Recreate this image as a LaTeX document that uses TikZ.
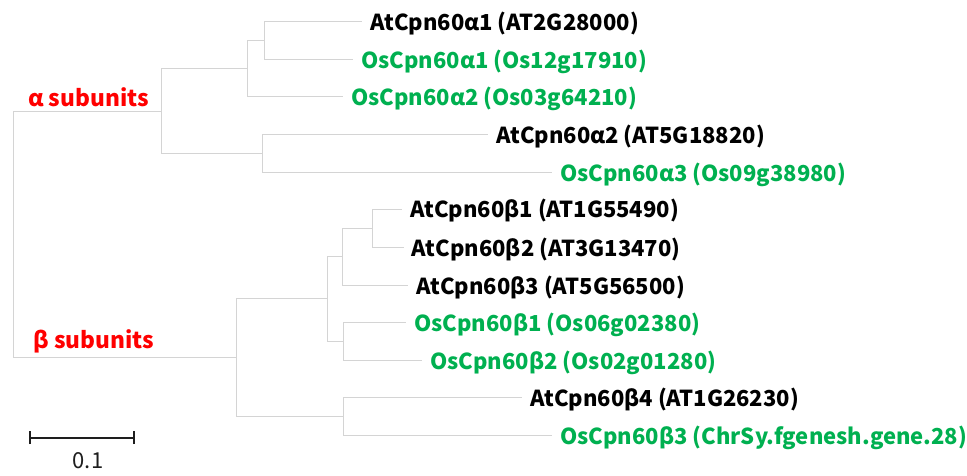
\documentclass[tikz,border=0pt]{standalone}
\usepackage{fontspec}
\setmainfont{Noto Sans CJK KR}
\definecolor{osgreen}{RGB}{0,176,80}
\definecolor{branch}{RGB}{212,212,212}
\definecolor{scaleink}{RGB}{30,30,30}
\begin{document}
\begin{tikzpicture}[x=1pt,y=-1pt,
  branchline/.style={draw=branch,line width=1pt},
  leaf/.style={anchor=west,font=\fontsize{22}{26}\selectfont\bfseries,
    inner xsep=8pt,inner ysep=0pt,text height=18pt,text depth=0pt},
  atleaf/.style={leaf,text=black},
  osleaf/.style={leaf,text=osgreen},
  cladelabel/.style={anchor=base west,inner sep=0pt,text=red,
    font=\fontsize{22.7}{27}\selectfont\bfseries}]
\useasboundingbox (0,0) rectangle (967,476);

% leaves
\node[atleaf] (at_a1) at (362,21.5)  {AtCpn60α1 (AT2G28000)};
\node[osleaf] (os_a1) at (353,59.7)  {OsCpn60α1 (Os12g17910)};
\node[osleaf] (os_a2) at (343,97)    {OsCpn60α2 (Os03g64210)};
\node[atleaf] (at_a2) at (488,134.5) {AtCpn60α2 (AT5G18820)};
\node[osleaf] (os_a3) at (552,172.3) {OsCpn60α3 (Os09g38980)};
\node[atleaf] (at_b1) at (402,209)   {AtCpn60β1 (AT1G55490)};
\node[atleaf] (at_b2) at (403.5,247) {AtCpn60β2 (AT3G13470)};
\node[atleaf] (at_b3) at (408,285)   {AtCpn60β3 (AT5G56500)};
\node[osleaf] (os_b1) at (406,322.5) {OsCpn60β1 (Os06g02380)};
\node[osleaf] (os_b2) at (422,360)   {OsCpn60β2 (Os02g01280)};
\node[atleaf] (at_b4) at (522,397)   {AtCpn60β4 (AT1G26230)};
\node[osleaf] (os_b3) at (552,435)   {OsCpn60β3 (ChrSy.fgenesh.gene.28)};

% internal nodes
\coordinate (root)  at (13,234.3);
\coordinate (na)    at (161,111.1);
\coordinate (na1)   at (247,68.8);
\coordinate (na11)  at (264,40.6);
\coordinate (na2)   at (262,153.4);
\coordinate (nb)    at (236,357.4);
\coordinate (nb1)   at (327,298.9);
\coordinate (nb11)  at (342,256.5);
\coordinate (nb111) at (372.5,228);
\coordinate (nb12)  at (343,341.25);
\coordinate (nb2)   at (343,416);

% branches
\draw[branchline] (root) |- (na);
\draw[branchline] (root) |- (nb);
\draw[branchline] (na) |- (na1);
\draw[branchline] (na) |- (na2);
\draw[branchline] (na1) |- (na11);
\draw[branchline] (na1) |- (os_a2.west);
\draw[branchline] (na11) |- (at_a1.west);
\draw[branchline] (na11) |- (os_a1.west);
\draw[branchline] (na2) |- (at_a2.west);
\draw[branchline] (na2) |- (os_a3.west);
\draw[branchline] (nb) |- (nb1);
\draw[branchline] (nb) |- (nb2);
\draw[branchline] (nb1) |- (nb11);
\draw[branchline] (nb1) |- (nb12);
\draw[branchline] (nb11) |- (nb111);
\draw[branchline] (nb11) |- (at_b3.west);
\draw[branchline] (nb111) |- (at_b1.west);
\draw[branchline] (nb111) |- (at_b2.west);
\draw[branchline] (nb12) |- (os_b1.west);
\draw[branchline] (nb12) |- (os_b2.west);
\draw[branchline] (nb2) |- (at_b4.west);
\draw[branchline] (nb2) |- (os_b3.west);

% clade labels
\node[cladelabel] (alpha) at (28,106.5) {α subunits};
\node[cladelabel] (beta)  at (33,348)   {β subunits};

% scale bar
\coordinate (sbl) at (30,438);
\coordinate (sbr) at (134,438);
\draw[scaleink,line width=1.3pt] (sbl) -- (sbr);
\draw[scaleink,line width=1.3pt] ([yshift=-6pt]sbl) -- ([yshift=7pt]sbl);
\draw[scaleink,line width=1.3pt] ([yshift=-6pt]sbr) -- ([yshift=7pt]sbr);
\node[text=scaleink,font=\fontsize{22}{26}\selectfont,inner sep=0pt] (sblabel) at (88,461) {0.1};
\end{tikzpicture}
\end{document}
